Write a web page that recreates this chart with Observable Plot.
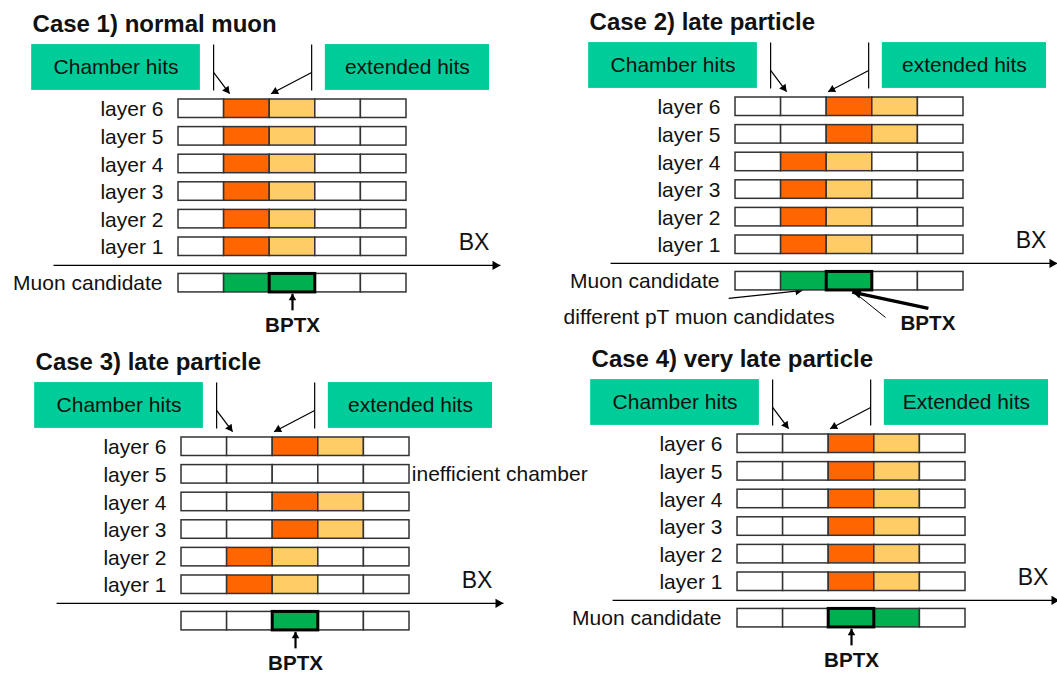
<!DOCTYPE html>
<html><head><meta charset="utf-8">
<script src="https://cdn.jsdelivr.net/npm/d3@7"></script>
<script src="https://cdn.jsdelivr.net/npm/@observablehq/plot@0.6"></script>
<style>html,body{margin:0;padding:0;background:#fff;}</style>
</head><body><div id="chart"></div>
<script>
// ---------------- data ----------------
const caseTitles = ["Case 1) normal muon", "Case 2) late particle", "Case 3) late particle", "Case 4) very late particle"];
const layerLabels = ["layer 6", "layer 5", "layer 4", "layer 3", "layer 2", "layer 1"];
const bxSlots = [0, 1, 2, 3, 4];
// BX slot of the chamber hit in each layer (layer 6 ... layer 1); null = no hit
const hitsCase1 = [1, 1, 1, 1, 1, 1];
const hitsCase2 = [2, 2, 1, 1, 1, 1];
const hitsCase3 = [2, null, 2, 2, 1, 1];
const hitsCase4 = [2, 2, 2, 2, 2, 2];
// extended hit = one BX after the chamber hit
const extendBy = 1;
// BX slots holding a muon candidate
const candCase1 = [1, 2];
const candCase2 = [1, 2];
const candCase3 = [2];
const candCase4 = [2, 3];
const bptxSlots = [2, 2, 2, 2];
const leftBoxLabels = ["Chamber hits", "Chamber hits", "Chamber hits", "Chamber hits"];
const rightBoxLabels = ["extended hits", "extended hits", "extended hits", "Extended hits"];
const candidateLabels = ["Muon candidate", "Muon candidate", "", "Muon candidate"];
const axisLabel = "BX";
const bptxLabel = "BPTX";
const noteTexts = ["different pT muon candidates", "inefficient chamber"];
const notePanels = [1, 2];

// ---------------- layout (positions in cell / row units) ----------------
const L = {
  width: 1057, height: 673,
  cellPx: 45.6, rowPx: 27.6,
  originPx: [178, 99],
  panels: [[0, 0], [12.215, -0.072], [0.066, 12.246], [12.259, 12.138]],
  rowH: 0.67, candRow: 6.32,
  title: [-3.20, -2.73],
  leftBox: [-3.22, 0.48], rightBox: [3.22, 6.82], boxY: [-1.99, -0.33],
  vlineX: [0.77, 2.92], arrowStartY: -0.98, arrowEnds: [[1.12, -0.21], [2.03, -0.21]],
  labelX: -0.33, labelDy: 0.37,
  axis: [-2.74, 7.06, 6.01], bxLabel: [6.48, 5.17],
  candLabelX: -0.35,
  bptxArrowY: [7.64, 7.04], bptxLabelY: 8.2,
  bptxLabelX2: 4.22,
  bptxThick: [[4.23, 7.64], [2.56, 7.05]],
  bptxThin: [[3.29, 7.97], [2.62, 7.08]],
  ptNote: [-3.77, 7.98], ptArrow: [[-0.15, 7.28], [1.47, 6.99]],
  ineffNote: [5.05, 1.34]
};

const hits = [hitsCase1, hitsCase2, hitsCase3, hitsCase4];
const cands = [candCase1, candCase2, candCase3, candCase4];

const cells = [], bptxCells = [], layerText = [], titles = [], boxes = [], vlines = [];
const thinArrows = [], axisArrows = [], bptxArrows = [], candText = [], bxText = [], bptxText = [], notes = [];

hits.forEach((h, p) => {
  const [ox, oy] = L.panels[p];
  layerLabels.forEach((lab, r) => {
    layerText.push({x: ox + L.labelX, y: oy + r + L.labelDy, text: lab});
    bxSlots.forEach(b => {
      let kind = "empty";
      if (h[r] != null && b === h[r]) kind = "hit";
      else if (h[r] != null && b === h[r] + extendBy) kind = "ext";
      cells.push({x1: ox + b, x2: ox + b + 1, y1: oy + r, y2: oy + r + L.rowH, kind});
    });
  });
  const cy = oy + L.candRow;
  bxSlots.forEach(b => {
    cells.push({x1: ox + b, x2: ox + b + 1, y1: cy, y2: cy + L.rowH, kind: cands[p].includes(b) ? "cand" : "empty"});
  });
  const bs = bptxSlots[p];
  bptxCells.push({x1: ox + bs, x2: ox + bs + 1, y1: cy, y2: cy + L.rowH});
  if (candidateLabels[p]) candText.push({x: ox + L.candLabelX, y: cy + L.rowH / 2 + 0.01, text: candidateLabels[p]});
  titles.push({x: ox + L.title[0], y: oy + L.title[1], text: caseTitles[p]});
  boxes.push({x1: ox + L.leftBox[0], x2: ox + L.leftBox[1], y1: oy + L.boxY[0], y2: oy + L.boxY[1], text: leftBoxLabels[p]});
  boxes.push({x1: ox + L.rightBox[0], x2: ox + L.rightBox[1], y1: oy + L.boxY[0], y2: oy + L.boxY[1], text: rightBoxLabels[p]});
  L.vlineX.forEach((vx, i) => {
    vlines.push({x: ox + vx, y1: oy + L.boxY[0], y2: oy + L.boxY[1]});
    thinArrows.push({x1: ox + vx, y1: oy + L.arrowStartY, x2: ox + L.arrowEnds[i][0], y2: oy + L.arrowEnds[i][1]});
  });
  axisArrows.push({x1: ox + L.axis[0], x2: ox + L.axis[1], y1: oy + L.axis[2], y2: oy + L.axis[2]});
  bxText.push({x: ox + L.bxLabel[0], y: oy + L.bxLabel[1], text: axisLabel});
  if (p === 1) {
    bptxText.push({x: ox + L.bptxLabelX2, y: oy + L.bptxLabelY, text: bptxLabel});
  } else {
    bptxText.push({x: ox + bs + 0.5, y: oy + L.bptxLabelY, text: bptxLabel});
    bptxArrows.push({x1: ox + bs + 0.5, x2: ox + bs + 0.5, y1: oy + L.bptxArrowY[0], y2: oy + L.bptxArrowY[1]});
  }
});

// notes
const [o2x, o2y] = L.panels[notePanels[0]];
notes.push({x: o2x + L.ptNote[0], y: o2y + L.ptNote[1], text: noteTexts[0]});
thinArrows.push({x1: o2x + L.ptArrow[0][0], y1: o2y + L.ptArrow[0][1], x2: o2x + L.ptArrow[1][0], y2: o2y + L.ptArrow[1][1]});
const thickArrows = [{x1: o2x + L.bptxThick[0][0], y1: o2y + L.bptxThick[0][1], x2: o2x + L.bptxThick[1][0], y2: o2y + L.bptxThick[1][1]}];
const thinLines = [{x1: o2x + L.bptxThin[0][0], y1: o2y + L.bptxThin[0][1], x2: o2x + L.bptxThin[1][0], y2: o2y + L.bptxThin[1][1]}];
const [o3x, o3y] = L.panels[notePanels[1]];
notes.push({x: o3x + L.ineffNote[0], y: o3y + L.ineffNote[1], text: noteTexts[1]});

function heads(arr, r) {
  return arr.map(a => {
    const dx = (a.x2 - a.x1) * L.cellPx, dy = (a.y2 - a.y1) * L.rowPx;
    const len = Math.hypot(dx, dy), ux = dx / len, uy = dy / len;
    const back = 1.555 * r;
    return {x: a.x2 - back * ux / L.cellPx, y: a.y2 - back * uy / L.rowPx, angle: Math.atan2(ux, -uy) * 180 / Math.PI};
  });
}

const x0 = -L.originPx[0] / L.cellPx, y0 = -L.originPx[1] / L.rowPx;
const lk = {x1: "x1", y1: "y1", x2: "x2", y2: "y2"};
const ink = "#111";

const chart = Plot.plot({
  width: L.width, height: L.height,
  margin: 0,
  style: {fontFamily: "'Liberation Sans', Arial, sans-serif", background: "#fff", color: ink, overflow: "visible"},
  x: {domain: [x0, x0 + L.width / L.cellPx], range: [0, L.width], axis: null},
  y: {domain: [y0, y0 + L.height / L.rowPx], range: [0, L.height], axis: null},
  color: {type: "ordinal", domain: ["empty", "hit", "ext", "cand"], range: ["#ffffff", "#ff6600", "#ffcc66", "#00b050"]},
  marks: [
    Plot.rect(boxes, {...lk, fill: "#00cc99"}),
    Plot.text(boxes, {x: d => (d.x1 + d.x2) / 2, y: d => (d.y1 + d.y2) / 2, text: "text", fontSize: 21}),
    Plot.link(vlines, {x1: "x", x2: "x", y1: "y1", y2: "y2", stroke: "#000", strokeWidth: 1.2}),
    Plot.link(thinArrows, {...lk, stroke: "#000", strokeWidth: 1.2}),
    Plot.dot(heads(thinArrows, 3), {x: "x", y: "y", symbol: "triangle", r: 3, fill: "#000", rotate: "angle"}),
    Plot.rect(cells, {...lk, fill: "kind", stroke: "#333", strokeWidth: 1.5}),
    Plot.rect(bptxCells, {...lk, fill: "none", stroke: "#000", strokeWidth: 3}),
    Plot.link(axisArrows, {...lk, stroke: "#000", strokeWidth: 1.3}),
    Plot.dot(heads(axisArrows, 3.4), {x: "x", y: "y", symbol: "triangle", r: 3.4, fill: "#000", rotate: "angle"}),
    Plot.link(bptxArrows, {...lk, stroke: "#000", strokeWidth: 2.2}),
    Plot.dot(heads(bptxArrows, 2.8), {x: "x", y: "y", symbol: "triangle", r: 2.8, fill: "#000", rotate: "angle"}),
    Plot.link(thickArrows, {...lk, stroke: "#000", strokeWidth: 3.5}),
    Plot.dot(heads(thickArrows, 3.6), {x: "x", y: "y", symbol: "triangle", r: 3.6, fill: "#000", rotate: "angle"}),
    Plot.link(thinLines, {...lk, stroke: "#000", strokeWidth: 1}),
    Plot.text(layerText, {x: "x", y: "y", text: "text", textAnchor: "end", fontSize: 21}),
    Plot.text(candText, {x: "x", y: "y", text: "text", textAnchor: "end", fontSize: 21}),
    Plot.text(titles, {x: "x", y: "y", text: "text", textAnchor: "start", fontSize: 24, fontWeight: "bold"}),
    Plot.text(bxText, {x: "x", y: "y", text: "text", fontSize: 23}),
    Plot.text(bptxText, {x: "x", y: "y", text: "text", fontSize: 20.6, fontWeight: "bold"}),
    Plot.text(notes, {x: "x", y: "y", text: "text", textAnchor: "start", fontSize: 21})
  ]
});
document.getElementById("chart").appendChild(chart);
</script>
</body></html>
